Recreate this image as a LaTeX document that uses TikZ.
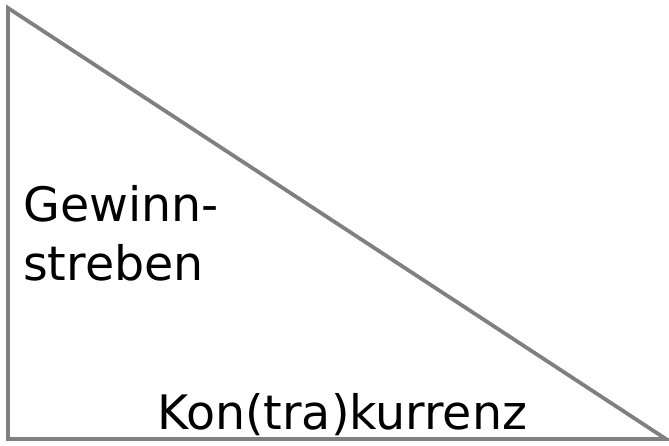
\documentclass[tikz,border=0pt]{standalone}
\usepackage{fontspec}
\setmainfont{DejaVu Sans}
\begin{document}
\begin{tikzpicture}[x=1pt,y=1pt,
  edge/.style={draw=black!50,line width=3.8pt,line join=miter},
  lbl/.style={inner sep=0pt,anchor=base west,font=\fontsize{47.5}{58}\selectfont}]
\useasboundingbox (0,0) rectangle (669,445);
\coordinate (A) at (8,437);
\coordinate (B) at (8,6);
\coordinate (C) at (666,6);
\draw[edge] (A) -- (B) -- (C) -- cycle;
\node[lbl] (g1) at (23,223) {Gewinn-};
\node[lbl] (g2) at (23,165) {streben};
\node[lbl] (k) at (157,16) {Kon(tra)kurrenz};
\end{tikzpicture}
\end{document}
